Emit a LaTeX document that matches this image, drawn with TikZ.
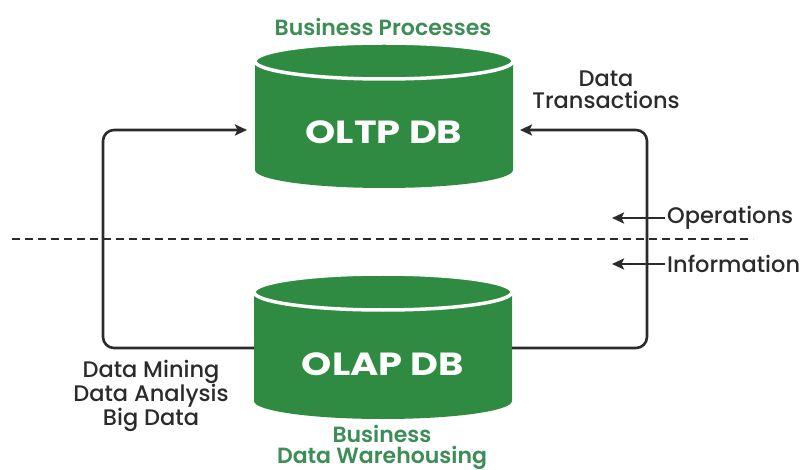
\documentclass[tikz,border=0pt]{standalone}
\usepackage{fontspec}
\usepackage{graphicx}
\setmainfont{Poppins}
\IfFontExistsTF{Poppins SemiBold}{\newfontfamily\semifont{Poppins SemiBold}}{\newfontfamily\semifont{Poppins}}
\IfFontExistsTF{Poppins Medium}{\newfontfamily\midfont{Poppins Medium}}{\newfontfamily\midfont{Poppins}}
\usetikzlibrary{arrows.meta}
\definecolor{dbgreen}{HTML}{2F8B41}
\definecolor{lblgreen}{HTML}{3D8D57}
\definecolor{ink}{HTML}{2B2B2B}
\newcommand\drawdb[2]{% center x, ellipse center y
  \fill[dbgreen] (#1-129,#2) -- (#1-129,#2+109) arc[start angle=180,end angle=0,x radius=129,y radius=18] -- (#1+129,#2) -- cycle;
  \fill[dbgreen,draw=white,line width=3.5pt] (#1,#2) ellipse [x radius=129, y radius=18];
}
\newcommand\wide[1]{\scalebox{1.2}[1]{#1}}
\begin{document}
\begin{tikzpicture}[x=1pt,y=-1pt,
  dbtext/.style={text=white,font=\fontsize{32}{34}\selectfont\bfseries,minimum width=258pt,inner sep=0pt,outer sep=0pt,anchor=center},
  greenlbl/.style={text=lblgreen,font=\fontsize{22}{22}\semifont,align=center,inner sep=0pt},
  lbl/.style={text=ink,font=\fontsize{22.5}{21.5}\midfont,align=center,inner sep=0pt},
  conn/.style={draw=ink,line width=2.6pt,rounded corners=11pt},
  tip/.style={-{Stealth[length=12pt,width=11pt,inset=2.5pt]}}]
\useasboundingbox (0,0) rectangle (803,470);
\drawdb{384}{61}
\drawdb{383}{292}
\node[dbtext] (oltp) at (384,132) {\wide{OLTP DB}};
\node[dbtext] (olap) at (383,364) {\wide{OLAP DB}};
\node[greenlbl] (bp) at (383,27) {Business Processes};
\node[greenlbl,anchor=south] (bdw) at (382,469.5) {Business\\[-1pt]Data Warehousing};
\node[lbl] (dt) at (606,90) {Data\\Transactions};
\node[lbl] (dm) at (151,396) {Data Mining\\Data Analysis\\Big Data};
\draw[dash pattern=on 8pt off 5pt,draw=ink,line width=2.6pt] (12,239) coordinate (dl) -- (753,239) coordinate (dr);
\coordinate (lc1) at (103,348);
\coordinate (lc2) at (103,130);
\coordinate (rc1) at (647,348);
\coordinate (rc2) at (647,130);
\draw[conn,tip,shorten >=8pt] ([yshift=16pt]olap.west) -- (lc1) -- (lc2) -- (oltp.west |- lc2);
\draw[conn,tip,shorten >=7pt] ([yshift=16pt]olap.east) -- (rc1) -- (rc2) -- (oltp.east |- rc2);
\node[lbl,anchor=west] (ops) at (667,218) {Operations};
\node[lbl,anchor=west] (info) at (667,264) {Information};
\coordinate (opsend) at (612,218);
\coordinate (infoend) at (612,264);
\draw[draw=ink,line width=2.6pt,tip,shorten <=2pt] (ops.west) -- (opsend);
\draw[draw=ink,line width=2.6pt,tip,shorten <=2pt] (info.west) -- (infoend);
\end{tikzpicture}
\end{document}
